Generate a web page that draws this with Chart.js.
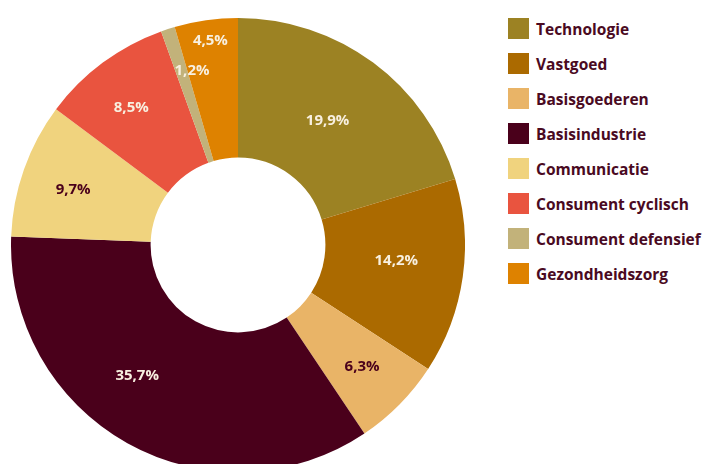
<!DOCTYPE html>
<html>
<head>
<meta charset="utf-8">
<script src="https://cdn.jsdelivr.net/npm/chart.js@4"></script>
<style>
  html, body { margin: 0; padding: 0; background: #fff; overflow: hidden; }
  body { width: 702px; height: 464px; position: relative; }
  #chartBox { position: absolute; left: 11px; top: 18px; width: 454px; height: 454px; }
  #legend { position: absolute; left: 508px; top: 18px; margin: 0; padding: 0; list-style: none; }
  #legend li { height: 35px; display: flex; align-items: flex-start; }
  #legend .box { width: 21px; height: 21px; margin-right: 7px; flex: none; }
  #legend .txt { font-family: "Open Sans", sans-serif; font-weight: 700; font-size: 15.5px; line-height: 22px; color: #4a0a22; white-space: nowrap; }
</style>
</head>
<body>
<div id="chartBox"><canvas id="sectorChart"></canvas></div>
<ul id="legend"></ul>
<script>
  // slice sizes as drawn in the picture; the printed percentages are kept separately
  var sectors = ['Technologie', 'Vastgoed', 'Basisgoederen', 'Basisindustrie', 'Communicatie', 'Consument cyclisch', 'Consument defensief', 'Gezondheidszorg'];
  var shares = [20.3, 13.9, 6.4, 35.0, 9.6, 9.3, 1.0, 4.5];
  var shareLabels = ['19,9%', '14,2%', '6,3%', '35,7%', '9,7%', '8,5%', '1,2%', '4,5%'];
  var colors = ['#9c8223', '#ab6a00', '#e9b467', '#4a001b', '#f0d37e', '#e9543f', '#c2b27a', '#de8200'];
  var labelColors = ['#f8f0e0', '#f8f0e0', '#4a001b', '#f8f0e0', '#4a001b', '#f8f0e0', '#f8f0e0', '#f8f0e0'];
  // label placement tweaks: distance from centre (px) and angle shift (deg)
  var labelRadius = [153, 159, 174, 165, 174, 174, 180, 206];
  var labelShift = [-0.7, -2.5, -0.1, 8.5, -0.8, -1.3, 3.2, 0.4];

  var legend = document.getElementById('legend');
  legend.innerHTML = sectors.map(function (name, i) {
    return '<li><span class="box" style="background:' + colors[i] + '"></span><span class="txt">' + name + '</span></li>';
  }).join('');

  var sliceLabels = {
    id: 'sliceLabels',
    afterDatasetsDraw: function (chart) {
      var ctx = chart.ctx;
      var arcs = chart.getDatasetMeta(0).data;
      ctx.save();
      ctx.font = '700 15px "Open Sans", sans-serif';
      ctx.textAlign = 'center';
      ctx.textBaseline = 'middle';
      arcs.forEach(function (arc, i) {
        var a = (arc.startAngle + arc.endAngle) / 2 + labelShift[i] * Math.PI / 180;
        var x = arc.x + Math.cos(a) * labelRadius[i];
        var y = arc.y + Math.sin(a) * labelRadius[i];
        ctx.fillStyle = labelColors[i];
        ctx.fillText(shareLabels[i], x, y);
      });
      ctx.restore();
    }
  };

  new Chart(document.getElementById('sectorChart'), {
    type: 'doughnut',
    data: {
      labels: sectors,
      datasets: [{
        data: shares,
        backgroundColor: colors,
        borderWidth: 0,
        hoverOffset: 0
      }]
    },
    options: {
      responsive: true,
      maintainAspectRatio: false,
      animation: false,
      cutout: '38.5%',
      layout: { padding: 0 },
      plugins: {
        legend: { display: false },
        tooltip: { enabled: false }
      }
    },
    plugins: [sliceLabels]
  });
</script>
</body>
</html>
